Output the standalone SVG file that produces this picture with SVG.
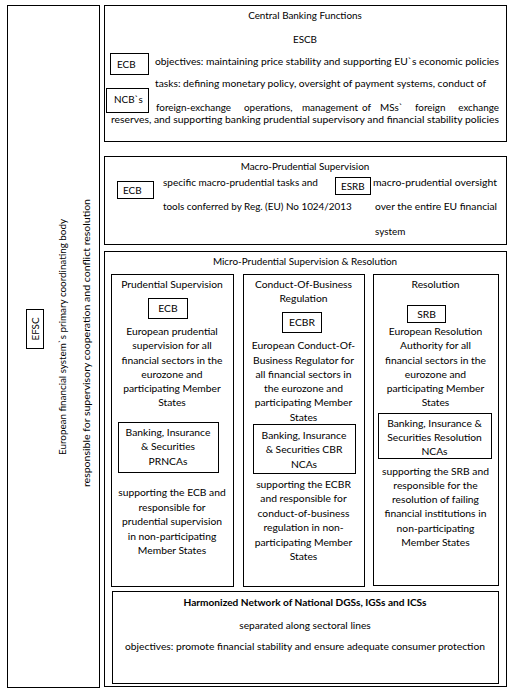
<svg xmlns="http://www.w3.org/2000/svg" width="516" height="694" viewBox="0 0 516 694">
<style>
rect{fill:none;stroke:#000;stroke-width:1}
text{font-family:Lato,"Liberation Sans",sans-serif;font-size:9.9px;fill:#000}
.c{text-anchor:middle}
.col{font-size:10.3px;text-anchor:middle}
.bt{font-size:10.2px;text-anchor:middle}
.b{font-weight:bold}
</style>
<rect x="0" y="0" width="516" height="694" style="fill:#fff;stroke:none"/>
<g id="efsc-column">
<rect x="7.5" y="5.5" width="92" height="682"/>
<rect x="26.5" y="309.5" width="17" height="39"/>
<text transform="translate(38.5,329) rotate(-90)" class="c">EFSC</text>
<text transform="translate(66,337) rotate(-90)" class="c" textLength="236" lengthAdjust="spacingAndGlyphs">European financial system`s primary coordinating body</text>
<text transform="translate(90,343) rotate(-90)" class="c" textLength="288" lengthAdjust="spacingAndGlyphs">responsible for supervisory cooperation and conflict resolution</text>
</g>
<g id="central-banking">
<rect x="104.5" y="5.5" width="402" height="136"/>
<text x="305" y="19" class="c">Central Banking Functions</text>
<text x="305" y="43" class="c">ESCB</text>
<rect x="110.5" y="53.5" width="38" height="21"/>
<text x="117" y="68">ECB</text>
<text x="155" y="65" textLength="344" lengthAdjust="spacingAndGlyphs">objectives: maintaining price stability and supporting EU`s economic policies</text>
<text x="155" y="87" textLength="331" lengthAdjust="spacingAndGlyphs">tasks: defining monetary policy, oversight of payment systems, conduct of</text>
<rect x="106.5" y="88.5" width="42" height="24"/>
<text x="114" y="103">NCB`s</text>
<text y="111"><tspan x="156">foreign-exchange</tspan><tspan x="244">operations,</tspan><tspan x="302">management</tspan><tspan x="362">of</tspan><tspan x="380">MSs`</tspan><tspan x="415">foreign</tspan></text>
<text x="499" y="111" style="text-anchor:end">exchange</text>
<text x="111" y="123" textLength="388" lengthAdjust="spacingAndGlyphs">reserves, and supporting banking prudential supervisory and financial stability policies</text>
</g>
<g id="macro-prudential">
<rect x="104.5" y="156.5" width="402" height="88"/>
<text x="305" y="170" class="c">Macro-Prudential Supervision</text>
<rect x="117.5" y="181.5" width="36" height="17"/>
<text x="123" y="193.5">ECB</text>
<text x="163" y="186" textLength="155" lengthAdjust="spacingAndGlyphs">specific macro-prudential tasks and</text>
<text x="163" y="210">tools conferred by Reg. (EU) No 1024/2013</text>
<rect x="335.5" y="177.5" width="35" height="17"/>
<text x="341" y="189.5">ESRB</text>
<text x="373" y="186" textLength="124" lengthAdjust="spacingAndGlyphs">macro-prudential oversight</text>
<text x="375" y="210" textLength="122" lengthAdjust="spacingAndGlyphs">over the entire EU financial</text>
<text x="375" y="235">system</text>
</g>
<g id="micro-prudential">
<rect x="104.5" y="251.5" width="402" height="435"/>
<text x="305" y="265" class="c">Micro-Prudential Supervision &amp; Resolution</text>
</g>
<g id="prudential-supervision">
<rect x="111.5" y="274.5" width="122" height="312"/>
<text x="172" y="287.5" class="col">Prudential Supervision</text>
<rect x="148.5" y="298.5" width="39" height="20"/>
<text x="168" y="311.5" class="col">ECB</text>
<text x="172" y="334.5" class="col">European prudential</text>
<text x="172" y="348.5" class="col">supervision for all</text>
<text x="172" y="363.5" class="col">financial sectors in the</text>
<text x="172" y="377.5" class="col">eurozone and</text>
<text x="172" y="391.5" class="col">participating Member</text>
<text x="172" y="405.5" class="col">States</text>
<rect x="118.5" y="422.5" width="100" height="50"/>
<text x="168" y="435.5" class="col">Banking, Insurance</text>
<text x="168" y="449.5" class="col">&amp; Securities</text>
<text x="168" y="464.5" class="col">PRNCAs</text>
<text x="172" y="495.5" class="col">supporting the ECB and</text>
<text x="172" y="510.5" class="col">responsible for</text>
<text x="172" y="524.5" class="col">prudential supervision</text>
<text x="172" y="539.5" class="col">in non-participating</text>
<text x="172" y="553.5" class="col">Member States</text>
</g>
<g id="conduct-of-business">
<rect x="243.5" y="274.5" width="121" height="312"/>
<text x="303.5" y="287.5" class="col">Conduct-Of-Business</text>
<text x="303.5" y="301.5" class="col">Regulation</text>
<rect x="282.5" y="312.5" width="39" height="20"/>
<text x="302" y="325.5" class="col">ECBR</text>
<text x="303.5" y="348.5" class="col">European Conduct-Of-</text>
<text x="303.5" y="363.5" class="col">Business Regulator for</text>
<text x="303.5" y="377.5" class="col">all financial sectors in</text>
<text x="303.5" y="391.5" class="col">the eurozone and</text>
<text x="303.5" y="405.5" class="col">participating Member</text>
<text x="303.5" y="420.5" class="col">States</text>
<rect x="253.5" y="424.5" width="102" height="49"/>
<text x="304" y="438.5" class="col">Banking, Insurance</text>
<text x="304" y="452.5" class="col">&amp; Securities CBR</text>
<text x="304" y="467.5" class="col">NCAs</text>
<text x="303.5" y="487.5" class="col">supporting the ECBR</text>
<text x="303.5" y="501.5" class="col">and responsible for</text>
<text x="303.5" y="516.5" class="col">conduct-of-business</text>
<text x="303.5" y="530.5" class="col">regulation in non-</text>
<text x="303.5" y="545.5" class="col">participating Member</text>
<text x="303.5" y="559.5" class="col">States</text>
</g>
<g id="resolution">
<rect x="373.5" y="274.5" width="125" height="311"/>
<text x="435.5" y="287.5" class="col">Resolution</text>
<rect x="407.5" y="305.5" width="38" height="17"/>
<text x="426.5" y="317.5" class="col">SRB</text>
<text x="435.5" y="334.5" class="col">European Resolution</text>
<text x="435.5" y="348.5" class="col">Authority for all</text>
<text x="435.5" y="363.5" class="col">financial sectors in the</text>
<text x="435.5" y="377.5" class="col">eurozone and</text>
<text x="435.5" y="391.5" class="col">participating Member</text>
<text x="435.5" y="405.5" class="col">States</text>
<rect x="378.5" y="413.5" width="113" height="45"/>
<text x="434.5" y="427" class="col">Banking, Insurance &amp;</text>
<text x="434.5" y="441" class="col">Securities Resolution</text>
<text x="434.5" y="455" class="col">NCAs</text>
<text x="435.5" y="474.5" class="col">supporting the SRB and</text>
<text x="435.5" y="488.5" class="col">responsible for the</text>
<text x="435.5" y="502.5" class="col">resolution of failing</text>
<text x="435.5" y="516.5" class="col">financial institutions in</text>
<text x="435.5" y="531.5" class="col">non-participating</text>
<text x="435.5" y="545.5" class="col">Member States</text>
</g>
<g id="harmonized-network">
<rect x="112.5" y="591.5" width="386" height="92"/>
<text x="305" y="605.5" class="bt b" textLength="243" lengthAdjust="spacingAndGlyphs">Harmonized Network of National DGSs, IGSs and ICSs</text>
<text x="305" y="628.5" class="bt">separated along sectoral lines</text>
<text x="305" y="649.5" class="bt" textLength="360" lengthAdjust="spacingAndGlyphs">objectives: promote financial stability and ensure adequate consumer protection</text>
</g>
<g id="connectors"></g>
</svg>
